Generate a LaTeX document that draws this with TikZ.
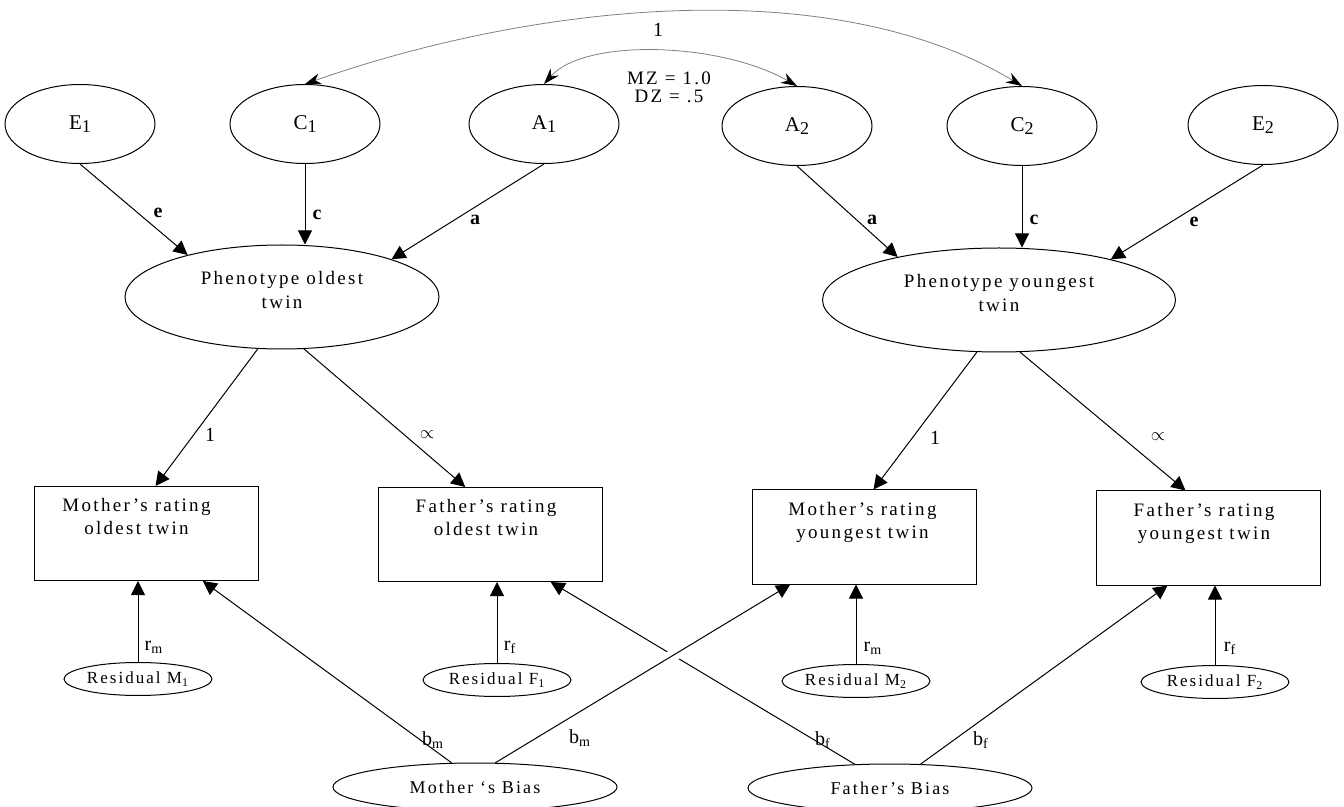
\documentclass[tikz,border=0pt]{standalone}
\usepackage{fontspec}
\setmainfont{Liberation Serif}[LetterSpace=12]
\usetikzlibrary{shapes.geometric,arrows.meta,calc}
\newcommand\lowidx[1]{\raisebox{-.35ex}{\fontsize{9}{9}\selectfont #1}}

\begin{document}
\begin{tikzpicture}[x=0.5pt,y=-0.5pt,
    latent/.style={draw, ellipse, inner sep=0pt, line width=0.5pt},
    ace/.style={latent, minimum width=75pt, minimum height=39.5pt, font=\fontsize{10.5}{10.5}\selectfont},
    pheno/.style={latent, minimum height=52pt, align=center, text depth=7pt, font=\fontsize{9.5}{12}\selectfont},
    resid/.style={latent, minimum width=74pt, minimum height=16.5pt, font=\fontsize{8.5}{8.5}\selectfont},
    bias/.style={latent, minimum width=142pt, minimum height=24pt, font=\fontsize{9}{9}\selectfont},
    rating/.style={draw, rectangle, line width=0.5pt, minimum width=112pt, minimum height=47pt},
    rtext/.style={anchor=north, yshift=-6pt, align=center, inner sep=0pt, font=\fontsize{9.5}{11.5}\selectfont},
    lbl/.style={inner sep=0pt, font=\fontsize{10}{10}\selectfont},
    plbl/.style={inner sep=0pt, font=\fontsize{10}{10}\selectfont\bfseries},
    arr/.style={-{Triangle[length=7pt,width=7pt]}, line width=0.5pt},
    corr/.style={{Stealth[length=8pt,width=5.5pt,black]}-{Stealth[length=8pt,width=5.5pt,black]}, gray, line width=0.4pt}]
  \useasboundingbox (0,0) rectangle (1344,807);

  % sources of variance
  \node[ace] (e1) at (80,124) {E\lowidx{1}};
  \node[ace] (c1) at (305,124) {C\lowidx{1}};
  \node[ace] (a1) at (544,124) {A\lowidx{1}};
  \node[ace] (a2) at (797,126) {A\lowidx{2}};
  \node[ace] (c2) at (1022,126) {C\lowidx{2}};
  \node[ace] (e2) at (1263,125) {E\lowidx{2}};

  % phenotypes
  \node[pheno, minimum width=157pt] (p1) at (282,297) {Phenotype oldest\\twin};
  \node[pheno, minimum width=176.5pt] (p2) at (999,300) {Phenotype youngest\\twin};

  % ratings
  \node[rating, label={[rtext, xshift=-5pt]north:{Mother’s rating\\oldest twin}}] (mo) at (146.5,533.5) {};
  \node[rating, label={[rtext, xshift=-2pt]north:{Father’s rating\\oldest twin}}] (fo) at (490,534.5) {};
  \node[rating, label={[rtext, xshift=-1pt]north:{Mother’s rating\\youngest twin}}] (my) at (864.5,537) {};
  \node[rating, label={[rtext, xshift=-2pt]north:{Father’s rating\\youngest twin}}] (fy) at (1208,538) {};

  % residuals and rater bias
  \node[resid] (rm1) at (138,679) {Residual M\textsubscript{1}};
  \node[resid] (rf1) at (497,680) {Residual F\textsubscript{1}};
  \node[resid] (rm2) at (856,681) {Residual M\textsubscript{2}};
  \node[resid] (rf2) at (1215,682) {Residual F\textsubscript{2}};
  \node[bias] (mb) at (475,787) {Mother ‘s Bias};
  \node[bias] (fb) at (890,788) {Father’s Bias};

  \coordinate (mo-t) at ($(mo.north west)!.54!(mo.north east)$);
  \coordinate (fo-t) at ($(fo.north west)!.39!(fo.north east)$);
  \coordinate (my-t) at ($(my.north west)!.54!(my.north east)$);
  \coordinate (fy-t) at ($(fy.north west)!.40!(fy.north east)$);
  \coordinate (mo-b) at ($(mo.south west)!.75!(mo.south east)$);
  \coordinate (fo-b) at ($(fo.south west)!.77!(fo.south east)$);
  \coordinate (my-b) at ($(my.south west)!.17!(my.south east)$);
  \coordinate (fy-b) at ($(fy.south west)!.32!(fy.south east)$);

  % paths
  \draw[arr] (e1.south) -- (p1.156);
  \draw[arr] (c1.south) -- (c1.south |- p1.north);
  \draw[arr] (a1.south) -- (p1.19);
  \draw[arr] (a2.south) -- (p2.157);
  \draw[arr] (c2.south) -- (c2.south |- p2.north);
  \draw[arr] (e2.south) -- (p2.20);
  \draw[arr] (p1.-115) -- (mo-t);
  \draw[arr] (p1.-67) -- (fo-t);
  \draw[arr] (p2.-113) -- (my-t);
  \draw[arr] (p2.-68) -- (fy-t);
  \draw[arr] (rm1.north) -- (rm1.north |- mo.south);
  \draw[arr] (rf1.north) -- (rf1.north |- fo.south);
  \draw[arr] (rm2.north) -- (rm2.north |- my.south);
  \draw[arr] (rf2.north) -- (rf2.north |- fy.south);
  \draw[arr] (mb.134) -- (mo-b);
  \draw[arr] (fb.146) -- (fo-b);
  \path (mb.50) -- (my-b) coordinate[pos=.57] (gapa) coordinate[pos=.64] (gapb);
  \draw[white, line width=6pt] (gapa) -- (gapb);
  \draw[arr] (mb.50) -- (my-b);
  \draw[arr] (fb.38) -- (fy-b);

  % twin correlations
  \draw[corr] (c1.north) .. controls (530,5) and (830,-30) .. (c2.north);
  \draw[corr] (a1.north) .. controls (585,38) and (720,42) .. (a2.north);

  % labels
  \node[lbl] (l-one) at (658,30) {1};
  \node[lbl, align=center, font=\fontsize{9.5}{9}\selectfont] (l-mzdz) at (669,87) {MZ = 1.0\\DZ = .5};
  \node[plbl] (l-e1) at (158,213) {e};
  \node[plbl] (l-c1) at (317,215) {c};
  \node[plbl] (l-a1) at (475,220) {a};
  \node[plbl] (l-a2) at (872,220) {a};
  \node[plbl] (l-c2) at (1034,220) {c};
  \node[plbl] (l-e2) at (1194,222) {e};
  \node[lbl] (l-1o) at (210,435) {1};
  \node[lbl] (l-xo) at (427,435) {\small$\propto$};
  \node[lbl] (l-1y) at (935,438) {1};
  \node[lbl] (l-xy) at (1158,437) {\small$\propto$};
  \node[lbl] (l-rm1) at (154,647) {r\textsubscript{m}};
  \node[lbl] (l-rf1) at (510,647) {r\textsubscript{f}};
  \node[lbl] (l-rm2) at (873,648) {r\textsubscript{m}};
  \node[lbl] (l-rf2) at (1230,648) {r\textsubscript{f}};
  \node[lbl] (l-bm1) at (433,740) {b\textsubscript{m}};
  \node[lbl] (l-bm2) at (580,738) {b\textsubscript{m}};
  \node[lbl] (l-bf1) at (823,740) {b\textsubscript{f}};
  \node[lbl] (l-bf2) at (981,740) {b\textsubscript{f}};
\end{tikzpicture}
\end{document}
